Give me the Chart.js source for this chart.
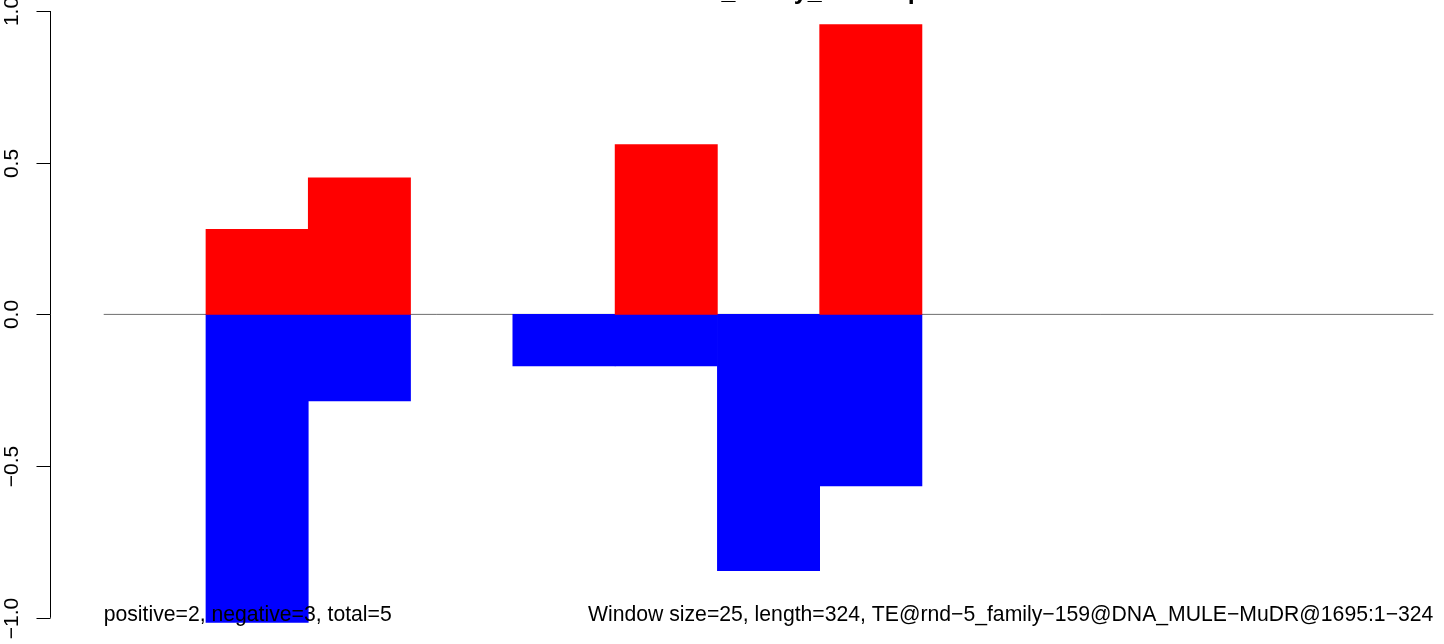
<!DOCTYPE html>
<html>
<head>
<meta charset="utf-8">
<title>TE window scores</title>
<script src="https://cdn.jsdelivr.net/npm/chart.js@4.4.1/dist/chart.umd.min.js"></script>
<style>
  html, body { margin: 0; padding: 0; background: #fff; }
  #wrap { width: 1444px; height: 644px; }
</style>
</head>
<body>
<div id="wrap"><canvas id="windowChart" width="1444" height="644"></canvas></div>
<script>
// 25 bp windows along a 324 bp element
const windowSize = 25;
const seqLength = 324;
const windowStarts = [0, 25, 50, 75, 100, 125, 150, 175, 200, 225, 250, 275, 300];
// scores per window (0 = no bar)
const plusScores  = [0, 0.28, 0.45, 0, 0, 0.56, 0, 0.955, 0, 0, 0, 0, 0];
const minusScores = [0, -1.015, -0.285, 0, -0.17, -0.17, -0.845, -0.565, 0, 0, 0, 0, 0];
// y axis
const yTicks = [-1, -0.5, 0, 0.5, 1];
const yTickLabels = ['\u22121.0', '\u22120.5', '0.0', '0.5', '1.0'];
// texts
const titleText = 'TE rnd\u22125_family_1695 top';
const leftNote = 'positive=2, negative=3, total=5';
const rightNote = 'Window size=25, length=324, TE@rnd\u22125_family\u2212159@DNA_MULE\u2212MuDR@1695:1\u2212324';

const FONT = '"Liberation Sans", Arial, Helvetica, sans-serif';
const lastEnd = windowStarts[windowStarts.length - 1] + windowSize;

// R-style axis, title and notes drawn on top of the bars
const baseGraphics = {
  id: 'baseGraphics',
  afterDatasetsDraw(chart) {
    const ctx = chart.ctx;
    const xs = chart.scales.x;
    const ys = chart.scales.y;
    const area = chart.chartArea;
    const axisX = area.left - 0.5;

    ctx.save();
    ctx.strokeStyle = '#000';
    ctx.fillStyle = '#000';
    ctx.lineWidth = 1;

    // axis line only spans the tick range
    ctx.beginPath();
    ctx.moveTo(axisX, ys.getPixelForValue(yTicks[0]));
    ctx.lineTo(axisX, ys.getPixelForValue(yTicks[yTicks.length - 1]));
    ctx.stroke();

    ctx.font = '21px ' + FONT;
    ctx.textAlign = 'center';
    ctx.textBaseline = 'alphabetic';
    yTicks.forEach((v, i) => {
      const py = Math.round(ys.getPixelForValue(v)) + 0.5;
      ctx.beginPath();
      ctx.moveTo(axisX - 14, py);
      ctx.lineTo(axisX, py);
      ctx.stroke();
      ctx.save();
      ctx.translate(axisX - 33, py);
      ctx.rotate(-Math.PI / 2);
      ctx.fillText(yTickLabels[i], 0, 0);
      ctx.restore();
    });

    // title sits mostly above the picture
    ctx.font = 'bold 25px ' + FONT;
    ctx.fillText(titleText, xs.getPixelForValue(lastEnd / 2), -1.5);

    // notes at the bottom
    ctx.font = '21.2px ' + FONT;
    const noteY = ys.getPixelForValue(-1) + 3.5;
    ctx.textAlign = 'left';
    ctx.fillText(leftNote, xs.getPixelForValue(0), noteY);
    ctx.textAlign = 'right';
    ctx.fillText(rightNote, xs.getPixelForValue(lastEnd), noteY);
    ctx.restore();
  }
};

// one bar per window that has a score
const toBars = scores => windowStarts
  .map((s, i) => ({ x: s + windowSize / 2, y: scores[i] }))
  .filter(p => p.y !== 0);

new Chart(document.getElementById('windowChart'), {
  data: {
    datasets: [
      {
        type: 'bar',
        label: 'plus',
        data: toBars(plusScores),
        backgroundColor: '#ff0000',
        borderWidth: 0,
        grouped: false,
        barPercentage: 1,
        categoryPercentage: 1,
        order: 1
      },
      {
        type: 'bar',
        label: 'minus',
        data: toBars(minusScores),
        backgroundColor: '#0000ff',
        borderWidth: 0,
        grouped: false,
        barPercentage: 1,
        categoryPercentage: 1,
        order: 1
      },
      {
        type: 'line',
        label: 'zero',
        data: [{ x: 0, y: 0 }, { x: lastEnd, y: 0 }],
        borderColor: '#6e6e6e',
        borderWidth: 1,
        pointRadius: 0,
        order: 2
      }
    ]
  },
  options: {
    responsive: false,
    animation: false,
    maintainAspectRatio: false,
    layout: { padding: { left: 51, top: 11, right: 0, bottom: 8 } },
    plugins: { legend: { display: false }, tooltip: { enabled: false } },
    scales: {
      x: {
        type: 'linear',
        min: -12.88,
        max: 327.6,
        offset: false,
        display: false,
        afterBuildTicks: s => { s.ticks = [{ value: 0 }]; }
      },
      y: {
        type: 'linear',
        min: -1.06,
        max: 1.0,
        display: false
      }
    }
  },
  plugins: [baseGraphics]
});
</script>
</body>
</html>
